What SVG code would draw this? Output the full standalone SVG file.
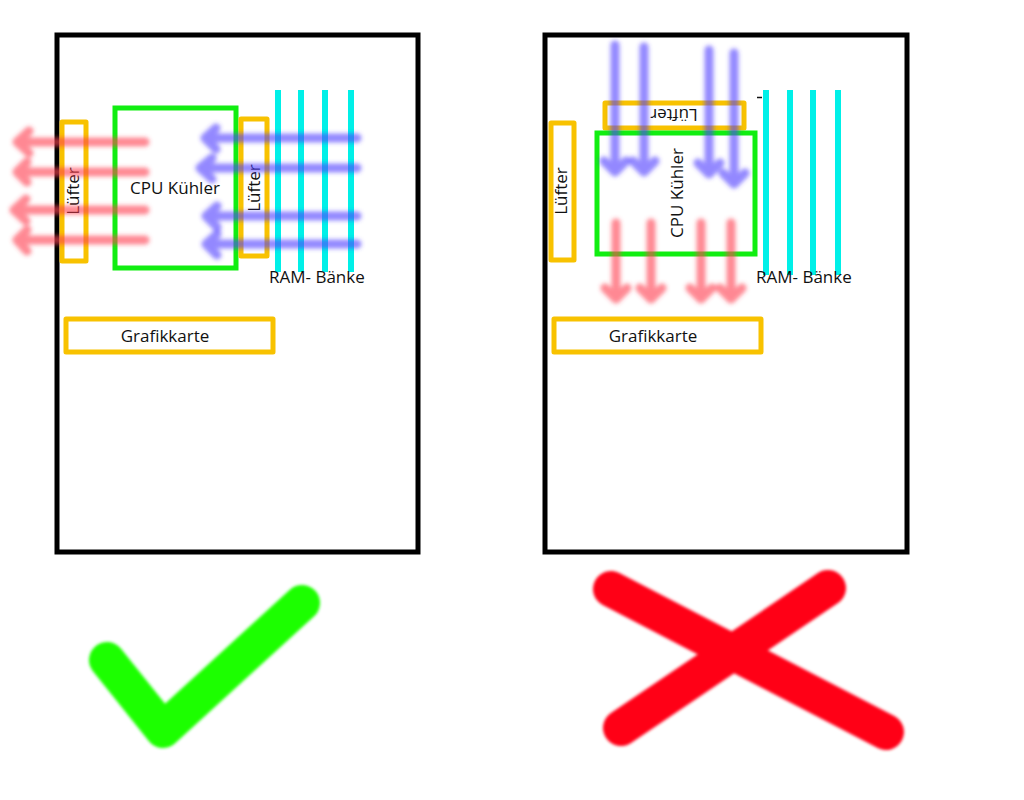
<svg xmlns="http://www.w3.org/2000/svg" width="1024" height="800" viewBox="0 0 1024 800">
<defs>
<filter id="blur" filterUnits="userSpaceOnUse" x="0" y="20" width="1024" height="320"><feGaussianBlur stdDeviation="2.2"/></filter>
<filter id="blur2" filterUnits="userSpaceOnUse" x="40" y="550" width="940" height="240"><feGaussianBlur stdDeviation="1.5"/></filter>
</defs>
<style>
.case{fill:none;stroke:#000;stroke-width:5}
.fan{fill:none;stroke:#f8c200;stroke-width:5;stroke-linejoin:round}
.cpu{fill:none;stroke:#11ee11;stroke-width:5}
.ram{stroke:#00f0e8;stroke-width:6}
.lbl{font-family:"Open Sans","Liberation Sans",sans-serif;font-size:17px;fill:#111}
.hot{fill:none;stroke:#ff4050;stroke-opacity:0.62;stroke-width:9;stroke-linecap:round;stroke-linejoin:round}
.cold{fill:none;stroke:#5040ff;stroke-opacity:0.62;stroke-width:9;stroke-linecap:round;stroke-linejoin:round}
</style>
<rect width="1024" height="800" fill="#fff"/>

<g id="left-case"><rect class="case" x="57" y="35" width="361" height="517"/></g>
<g id="right-case"><rect class="case" x="545" y="35" width="362" height="517"/></g>

<g id="left-ram">
<line class="ram" x1="278" y1="90" x2="278" y2="272"/>
<line class="ram" x1="301" y1="90" x2="301" y2="272"/>
<line class="ram" x1="325" y1="90" x2="325" y2="272"/>
<line class="ram" x1="351" y1="90" x2="351" y2="272"/>
<text class="lbl" x="269" y="283">RAM- Bänke</text>
</g>
<g id="right-ram">
<line class="ram" x1="766" y1="90" x2="766" y2="275"/>
<line class="ram" x1="790" y1="90" x2="790" y2="275"/>
<line class="ram" x1="813" y1="90" x2="813" y2="275"/>
<line class="ram" x1="838" y1="90" x2="838" y2="275"/>
<line x1="757" y1="97.5" x2="762" y2="97.5" stroke="#111" stroke-width="1.5"/>
<text class="lbl" x="756" y="283">RAM- Bänke</text>
</g>

<g id="left-fan-out"><rect class="fan" x="62" y="122" width="24" height="139"/>
<text class="lbl" transform="translate(79,191) rotate(-90)" text-anchor="middle">Lüfter</text></g>
<g id="left-cpu"><rect class="cpu" x="115" y="108" width="121" height="160"/>
<text class="lbl" x="175" y="194" text-anchor="middle">CPU Kühler</text></g>
<g id="left-fan-in"><rect class="fan" x="241" y="119" width="26" height="137"/>
<text class="lbl" transform="translate(260,188) rotate(-90)" text-anchor="middle">Lüfter</text></g>
<g id="left-gpu"><rect class="fan" x="66" y="319" width="207" height="33"/>
<text class="lbl" x="165" y="342" text-anchor="middle">Grafikkarte</text></g>

<g id="right-fan-rear"><rect class="fan" x="551" y="123" width="23" height="137"/>
<text class="lbl" transform="translate(567,191) rotate(-90)" text-anchor="middle">Lüfter</text></g>
<g id="right-fan-top"><rect class="fan" x="605" y="103" width="139" height="25"/>
<text class="lbl" transform="translate(674,109) rotate(180)" text-anchor="middle">Lüfter</text></g>
<g id="right-cpu"><rect class="cpu" x="597" y="133" width="158" height="121"/>
<text class="lbl" transform="translate(683,193) rotate(-90)" text-anchor="middle">CPU Kühler</text></g>
<g id="right-gpu"><rect class="fan" x="554" y="319" width="207" height="33"/>
<text class="lbl" x="653" y="342" text-anchor="middle">Grafikkarte</text></g>

<g id="connectors">
<g filter="url(#blur)">
<path class="hot" d="M145 142 H17 M29 131 L17 142 L29 153"/>
<path class="hot" d="M145 172 H17 M27 162 L17 172 L27 182"/>
<path class="hot" d="M145 210 H14 M26 199 L14 210 L26 221"/>
<path class="hot" d="M145 240 H17 M27 230 L17 240 L27 251"/>
<path class="cold" d="M357 138 H205 M216 128 L205 138 L216 149"/>
<path class="cold" d="M357 168 H200 M212 158 L200 168 L212 179"/>
<path class="cold" d="M357 216 H206 M217 206 L206 216 L217 227"/>
<path class="cold" d="M357 244 H206 M217 234 L206 244 L217 255"/>
<path class="cold" d="M615 45 V172 M604 161 L615 172 L626 161"/>
<path class="cold" d="M644 47 V172 M633 161 L644 172 L655 161"/>
<path class="cold" d="M709 50 V174 M698 163 L709 174 L720 163"/>
<path class="cold" d="M734 53 V184 M723 173 L734 184 L745 173"/>
<path class="hot" d="M616 223 V299 M605 288 L616 299 L627 288"/>
<path class="hot" d="M651 223 V299 M640 288 L651 299 L662 288"/>
<path class="hot" d="M701 223 V299 M690 288 L701 299 L712 288"/>
<path class="hot" d="M731 223 V299 M720 288 L731 299 L742 288"/>
</g>
</g>

<g id="check" filter="url(#blur2)"><path d="M107 660 L163 730 L302 603" fill="none" stroke="#1aff00" stroke-width="36" stroke-linecap="round" stroke-linejoin="round"/></g>
<g id="cross" filter="url(#blur2)">
<line x1="611" y1="589" x2="886" y2="732" stroke="#ff0015" stroke-width="36" stroke-linecap="round"/>
<line x1="828" y1="588" x2="621" y2="728" stroke="#ff0015" stroke-width="36" stroke-linecap="round"/>
</g>
</svg>
